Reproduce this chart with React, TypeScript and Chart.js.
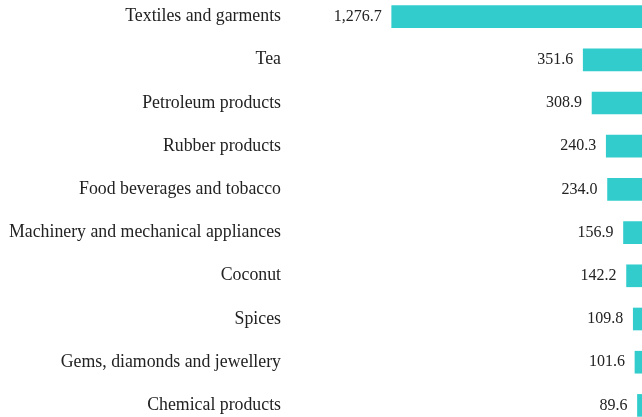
import React, { useEffect, useRef } from "react";
import { Chart, registerables } from "chart.js";

Chart.register(...registerables);

const categories = [
  "Textiles and garments",
  "Tea",
  "Petroleum products",
  "Rubber products",
  "Food beverages and tobacco",
  "Machinery and mechanical appliances",
  "Coconut",
  "Spices",
  "Gems, diamonds and jewellery",
  "Chemical products",
];

const values = [1276.7, 351.6, 308.9, 240.3, 234.0, 156.9, 142.2, 109.8, 101.6, 89.6];

const BAR_COLOR = "#33CCCC";
const TEXT_COLOR = "#222222";
const FONT = "'Liberation Serif', 'Times New Roman', serif";

const valueLabels = {
  id: "valueLabels",
  afterDatasetsDraw(chart: any) {
    const ctx = chart.ctx;
    const meta = chart.getDatasetMeta(0);
    ctx.save();
    ctx.fillStyle = TEXT_COLOR;
    ctx.font = `16px ${FONT}`;
    ctx.textAlign = "right";
    ctx.textBaseline = "middle";
    meta.data.forEach((bar: any, i: number) => {
      const v = values[i];
      const txt = v.toLocaleString("en-US", {
        minimumFractionDigits: 1,
        maximumFractionDigits: 1,
      });
      ctx.fillText(txt, bar.x - 10, bar.y);
    });
    ctx.restore();
  },
};

export default function App() {
  const ref = useRef<HTMLCanvasElement>(null);

  useEffect(() => {
    document.body.style.margin = "0";
    const canvas = ref.current!;
    const chart = new Chart(canvas, {
      type: "bar",
      data: {
        labels: categories,
        datasets: [
          {
            data: values,
            backgroundColor: BAR_COLOR,
            borderWidth: 0,
            barThickness: 22,
          },
        ],
      },
      options: {
        indexAxis: "y",
        animation: false,
        responsive: false,
        maintainAspectRatio: false,
        layout: { padding: 0 },
        plugins: {
          legend: { display: false },
          tooltip: { enabled: false },
        },
        scales: {
          x: {
            display: false,
            reverse: true,
            min: 0,
            max: 1768,
          },
          y: {
            grid: { display: false, drawTicks: false },
            border: { display: false },
            ticks: {
              padding: 9,
              color: TEXT_COLOR,
              font: { family: FONT, size: 17.8 },
            },
            afterFit(scale: any) {
              scale.width = 290;
              scale.paddingTop = 0;
              scale.paddingBottom = 0;
            },
          },
        },
      },
      plugins: [valueLabels],
    });
    return () => chart.destroy();
  }, []);

  return (
    <div
      style={{
        position: "relative",
        width: 642,
        height: 417,
        overflow: "hidden",
        background: "#ffffff",
      }}
    >
      <canvas
        ref={ref}
        width={656}
        height={432}
        style={{ position: "absolute", left: 0, top: -5, width: 656, height: 432 }}
      />
    </div>
  );
}
